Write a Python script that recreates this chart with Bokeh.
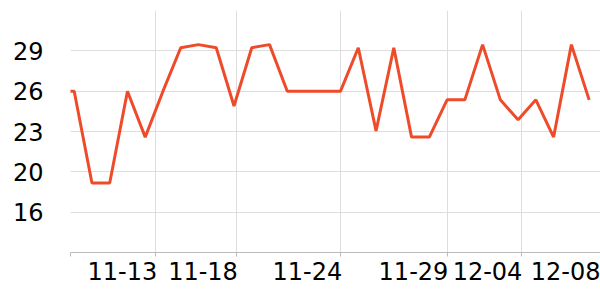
from bokeh.plotting import figure
from bokeh.models import Range1d, FixedTicker, ColumnDataSource
from bokeh.embed import file_html
from bokeh.resources import INLINE

dates = ["11-08", "11-09", "11-10", "11-11", "11-12", "11-13", "11-14", "11-15",
         "11-16", "11-17", "11-18", "11-19", "11-20", "11-21", "11-22", "11-23",
         "11-24", "11-25", "11-26", "11-27", "11-28", "11-29", "11-30", "12-01",
         "12-02", "12-03", "12-04", "12-05", "12-06", "12-07", "12-08"]
values = [26, 26, 18.6, 18.6, 26, 22.3, 26, 29.5, 29.75, 29.5, 24.8, 29.5, 29.75,
          26, 26, 26, 26, 29.5, 22.8, 29.5, 22.3, 22.3, 25.3, 25.3, 29.75, 25.3,
          23.7, 25.3, 22.3, 29.75, 25.3]

# tick marks / grid lines (x index units)
x_grid_pos = [0.792, 5.603, 10.144, 16.025, 21.997, 26.166]
# labelled ticks: label's right edge sits on the tick
x_tick_pos = [5.603, 10.144, 16.025, 21.997, 26.166, 30.62]
x_tick_labels = ["11-13", "11-18", "11-24", "11-29", "12-04", "12-08"]
y_tick_pos = [16.25, 19.5, 22.75, 26.0, 29.25]
y_tick_labels = ["16", "20", "23", "26", "29"]

LABEL_SHIFT = 1.89  # half label width in x units (right-aligned labels)

src = ColumnDataSource(dict(x=list(range(len(dates))), y=values, d=dates))

p = figure(width=600, height=300, output_backend="svg", toolbar_location=None,
           x_range=Range1d(0.792, 30.64), y_range=Range1d(13, 32.5),
           min_border_left=70, min_border_right=0, min_border_top=10,
           min_border_bottom=48)
p.outline_line_color = None
p.background_fill_color = "white"
p.border_fill_color = "white"

p.line("x", "y", source=src, line_color="#ee4b2b", line_width=3)

font = "DejaVu Sans"
label_pos = [round(t - LABEL_SHIFT, 3) for t in x_tick_pos]
p.xaxis.ticker = FixedTicker(ticks=label_pos, minor_ticks=x_grid_pos)
p.xaxis.major_label_overrides = {pos: lab for pos, lab in zip(label_pos, x_tick_labels)}
p.xaxis.axis_line_color = "#bbbbbb"
p.xaxis.major_tick_line_color = None
p.xaxis.major_tick_out = 4
p.xaxis.major_tick_in = 0
p.xaxis.minor_tick_line_color = "#bbbbbb"
p.xaxis.minor_tick_out = 4
p.xaxis.minor_tick_in = 0
p.xaxis.major_label_standoff = 5

p.yaxis.ticker = FixedTicker(ticks=y_tick_pos, minor_ticks=[])
p.yaxis.major_label_overrides = {pos: lab for pos, lab in zip(y_tick_pos, y_tick_labels)}
p.yaxis.axis_line_color = None
p.yaxis.major_tick_line_color = None
p.yaxis.minor_tick_line_color = None
p.yaxis.major_tick_out = 0
p.yaxis.major_tick_in = 0
p.yaxis.major_label_standoff = 27

for ax in (p.xaxis, p.yaxis):
    ax.major_label_text_font = font
    ax.major_label_text_font_size = "24px"
    ax.major_label_text_color = "black"

p.xgrid.ticker = FixedTicker(ticks=x_grid_pos, minor_ticks=[])
p.xgrid.grid_line_color = "#dddddd"
p.ygrid.grid_line_color = "#dddddd"
p.xgrid.grid_line_width = 1
p.ygrid.grid_line_width = 1

open("out.html", "w").write(file_html(p, INLINE))
